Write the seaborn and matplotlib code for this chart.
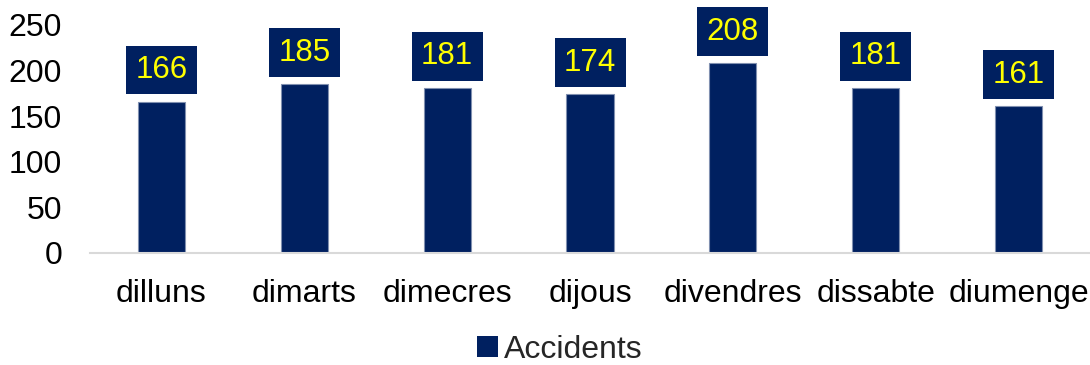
import matplotlib
matplotlib.use("Agg")
import matplotlib.pyplot as plt
import seaborn as sns
import pandas as pd
from matplotlib.patches import Patch

days = ["dilluns", "dimarts", "dimecres", "dijous", "divendres", "dissabte", "diumenge"]
accidents = [166, 185, 181, 174, 208, 181, 161]
series_name = "Accidents"
y_ticks = [0, 50, 100, 150, 200, 250]

navy = "#002060"
sns.set_theme(style="white")
plt.rcParams["font.family"] = ["Liberation Sans", "DejaVu Sans"]

df = pd.DataFrame({"dia": days, "valor": accidents})

fig = plt.figure(figsize=(10.9, 3.65), dpi=100)
ax = fig.add_axes([90 / 1090, 112 / 365, 1000 / 1090, 228 / 365])

sns.barplot(data=df, x="dia", y="valor", color=navy, saturation=1, width=0.33,
            edgecolor="#8090b0", linewidth=0.8, ax=ax)

# value labels in a filled box above each bar
for i, v in enumerate(accidents):
    ax.annotate(str(v), (i, v), xytext=(0, 12), textcoords="offset points",
                ha="center", va="bottom", fontsize=22.5, color="#FFFF00",
                bbox=dict(boxstyle="square,pad=0.3", fc=navy, ec="none"),
                annotation_clip=False)

ax.set_ylim(0, 250)
ax.set_yticks(y_ticks)
ax.set_xlim(-0.5, len(days) - 0.5)
ax.set_xlabel("")
ax.set_ylabel("")
ax.tick_params(axis="both", labelsize=23, colors="black", length=0)
ax.tick_params(axis="x", pad=19)
ax.tick_params(axis="y", pad=20)
for s in ["top", "right", "left"]:
    ax.spines[s].set_visible(False)
ax.spines["bottom"].set_color("#D9D9D9")
ax.spines["bottom"].set_linewidth(1.5)

fig.legend(handles=[Patch(facecolor=navy, edgecolor="none", label=series_name)],
           loc="center", bbox_to_anchor=(560 / 1090, 1 - 350 / 365), frameon=False,
           fontsize=23, handlelength=0.65, handleheight=0.65, handletextpad=0.2)

fig.savefig("out.png", dpi=100)
